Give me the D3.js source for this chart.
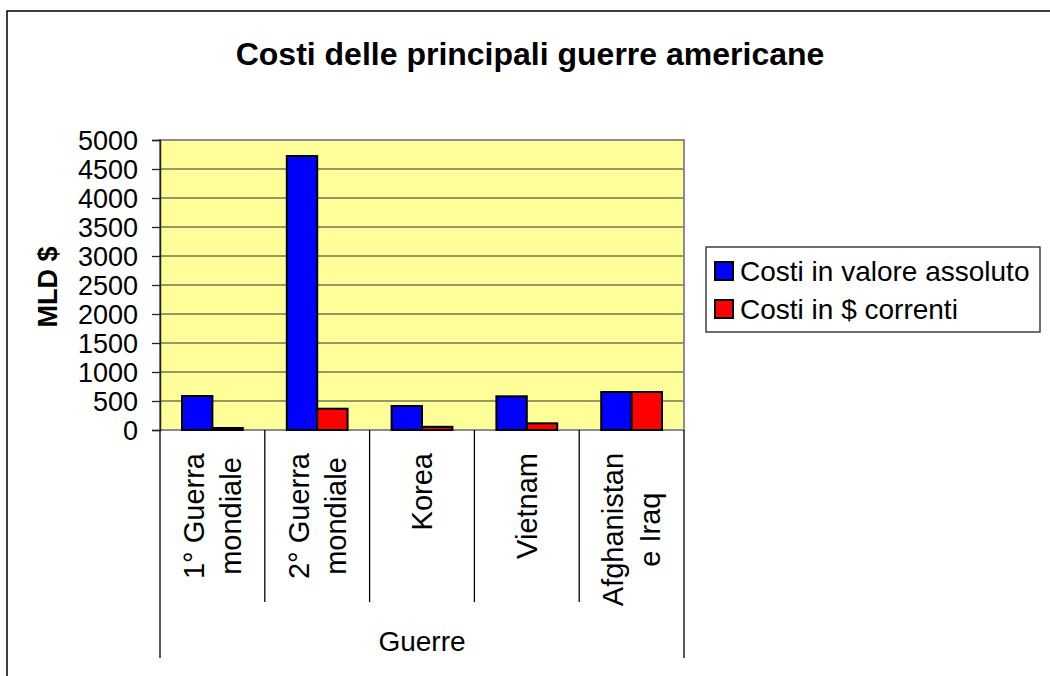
<!DOCTYPE html>
<html>
<head>
<meta charset="utf-8">
<script src="https://cdn.jsdelivr.net/npm/d3@7"></script>
<style>
  body { margin: 0; background: #fff; }
  svg { display: block; font-family: Arial, "Liberation Sans", sans-serif; }
</style>
</head>
<body>
<svg id="chart" width="1050" height="676"></svg>
<script>
const categories = [["1° Guerra", "mondiale"], ["2° Guerra", "mondiale"], ["Korea"], ["Vietnam"], ["Afghanistan", "e Iraq"]];
const seriesNames = ["Costi in valore assoluto", "Costi in $ correnti"];
const absoluteCosts = [586, 4724, 414, 581, 655];
const currentCosts = [35, 367, 55, 115, 655];
const yTicks = [0, 500, 1000, 1500, 2000, 2500, 3000, 3500, 4000, 4500, 5000];
const colors = ["#0000FF", "#FF0000"];

const svg = d3.select("#chart");
const W = 1050, H = 676;
const plot = { left: 160, right: 684, top: 140, bottom: 430 };

// outer chart border
svg.append("rect").attr("x", 7).attr("y", 11).attr("width", W + 20).attr("height", H + 20)
  .attr("fill", "#fff").attr("stroke", "#000").attr("stroke-width", 1.5);

// title
svg.append("text").attr("x", 530).attr("y", 65).attr("text-anchor", "middle")
  .attr("font-size", 32).attr("font-weight", "bold").text("Costi delle principali guerre americane");

const idx = d3.range(categories.length);
const x = d3.scaleBand().domain(idx).range([plot.left, plot.right]).paddingInner(0).paddingOuter(0);
const y = d3.scaleLinear().domain([0, 5000]).range([plot.bottom, plot.top]);

// plot background
svg.append("rect").attr("x", plot.left).attr("y", plot.top)
  .attr("width", plot.right - plot.left).attr("height", plot.bottom - plot.top)
  .attr("fill", "#FFFF99");

// gridlines
svg.append("g").selectAll("line").data(yTicks.filter(d => d > 0 && d < 5000)).join("line")
  .attr("x1", plot.left).attr("x2", plot.right)
  .attr("y1", d => y(d)).attr("y2", d => y(d))
  .attr("stroke", "#333").attr("stroke-width", 1.2);

// plot border (gray)
svg.append("rect").attr("x", plot.left).attr("y", plot.top)
  .attr("width", plot.right - plot.left).attr("height", plot.bottom - plot.top)
  .attr("fill", "none").attr("stroke", "#8c8c8c").attr("stroke-width", 2);

// bars
const inner = d3.scaleBand().domain([0, 1]).range([x.bandwidth() * 0.21, x.bandwidth() * 0.79]).padding(0);
const series = [absoluteCosts, currentCosts];
series.forEach((vals, s) => {
  svg.append("g").selectAll("rect").data(vals).join("rect")
    .attr("x", (d, i) => x(i) + inner(s))
    .attr("y", d => y(d))
    .attr("width", inner.bandwidth())
    .attr("height", d => y(0) - y(d))
    .attr("fill", colors[s]).attr("stroke", "#000").attr("stroke-width", 2);
});

// y axis
const yAxis = d3.axisLeft(y).tickValues(yTicks).tickFormat(d3.format("d")).tickSize(8).tickPadding(14);
const yg = svg.append("g").attr("transform", `translate(${plot.left},0)`).call(yAxis);
yg.select(".domain").attr("stroke", "#222").attr("stroke-width", 1.5);
yg.selectAll(".tick line").attr("stroke", "#222").attr("stroke-width", 1.3);
yg.selectAll(".tick text").attr("font-size", 27).attr("font-family", "Arial, 'Liberation Sans', sans-serif")
  .attr("fill", "#000").attr("dy", "0.36em");

// category separators
const seps = d3.range(categories.length + 1);
svg.append("g").selectAll("line").data(seps).join("line")
  .attr("x1", i => i < categories.length ? x(i) : plot.right)
  .attr("x2", i => i < categories.length ? x(i) : plot.right)
  .attr("y1", plot.bottom)
  .attr("y2", i => (i === 0 || i === categories.length) ? 658 : 602)
  .attr("stroke", "#000").attr("stroke-width", 1.3);

// category labels (rotated)
const labelTop = 453;
const lineGap = 37;
categories.forEach((lines, i) => {
  const cx = x(i) + x.bandwidth() / 2;
  const g = svg.append("g");
  const texts = lines.map((t, k) => g.append("text").attr("font-size", 29).text(t));
  const widths = texts.map(t => t.node().getComputedTextLength());
  const maxW = d3.max(widths);
  const midY = labelTop + maxW / 2;
  const n = lines.length;
  texts.forEach((t, k) => {
    const bx = cx + (k - (n - 1) / 2) * lineGap + 10;
    t.attr("text-anchor", "middle")
     .attr("transform", `translate(${bx},${midY}) rotate(-90)`);
  });
});

// x axis title
svg.append("text").attr("x", (plot.left + plot.right) / 2).attr("y", 651).attr("text-anchor", "middle")
  .attr("font-size", 28).text("Guerre");

// y axis title
svg.append("text").attr("transform", `translate(57,287) rotate(-90)`).attr("text-anchor", "middle")
  .attr("font-size", 27).attr("font-weight", "bold").text("MLD $");

// legend
const leg = svg.append("g");
leg.append("rect").attr("x", 706).attr("y", 247).attr("width", 334).attr("height", 85)
  .attr("fill", "#fff").attr("stroke", "#222").attr("stroke-width", 1.3);
seriesNames.forEach((name, s) => {
  const ly = 271 + s * 38;
  leg.append("rect").attr("x", 715).attr("y", ly - 9).attr("width", 18).attr("height", 18)
    .attr("fill", colors[s]).attr("stroke", "#000").attr("stroke-width", 2);
  leg.append("text").attr("x", 740).attr("y", ly + 10).attr("font-size", 28).text(name);
});
</script>
</body>
</html>
